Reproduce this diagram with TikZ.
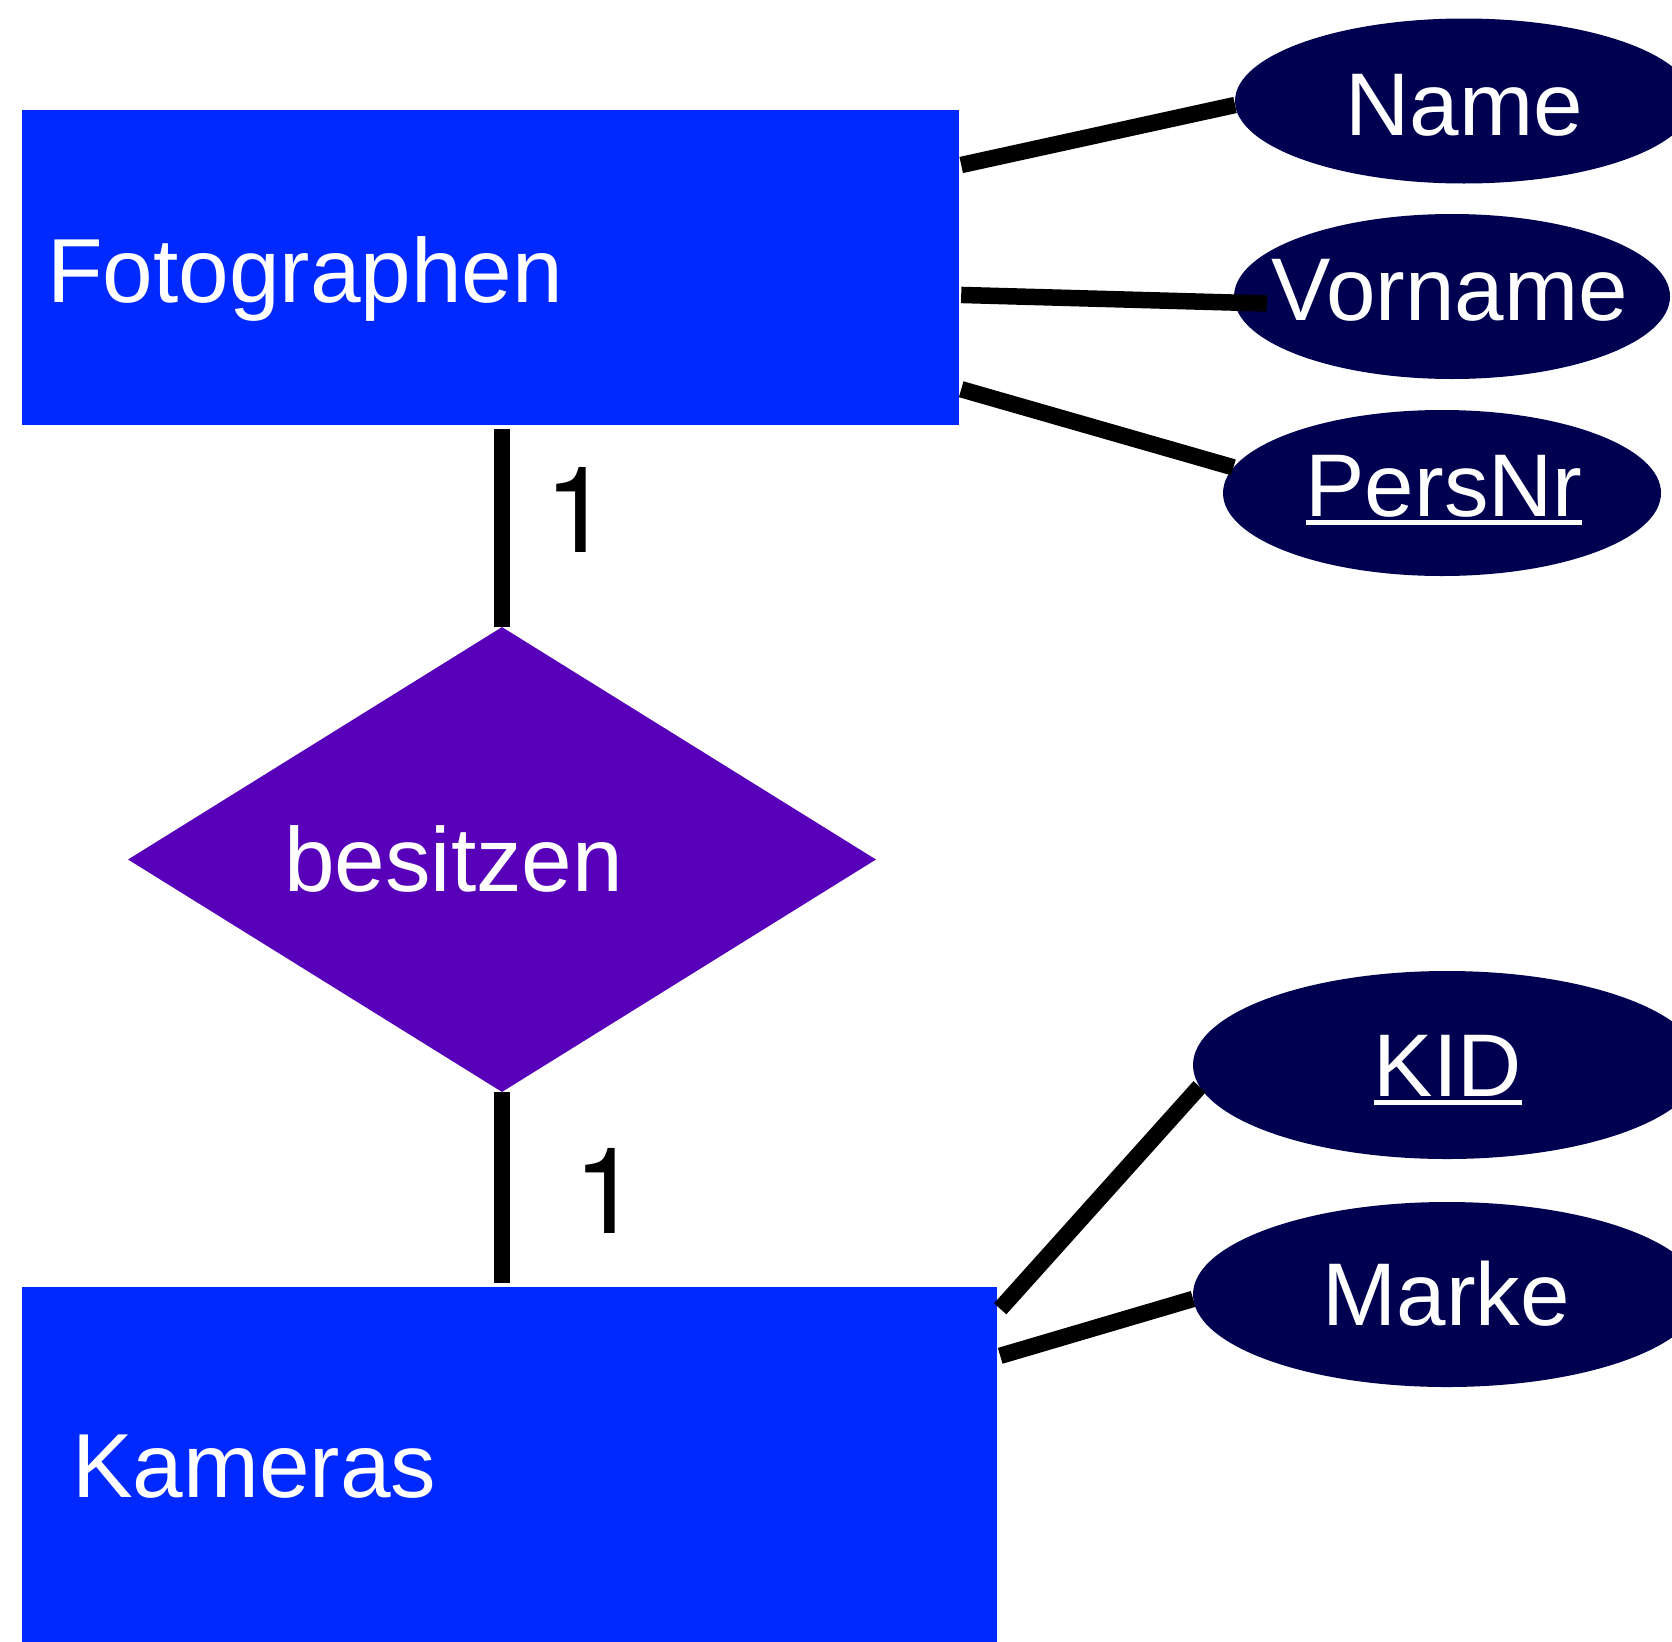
\documentclass[tikz,border=0pt]{standalone}
\usepackage{fontspec}
\setmainfont{Liberation Sans}
\newfontfamily\cardfont{TeX Gyre Heros}
\usetikzlibrary{shapes.geometric,calc}
\definecolor{entblue}{RGB}{0,41,255}
\definecolor{relpurple}{RGB}{88,0,185}
\definecolor{attnavy}{RGB}{0,0,80}
\newcommand\keyul[1]{\setbox0\hbox{#1}\rlap{\rule[-0.1em]{\wd0}{0.056em}}\box0}
\begin{document}
\begin{tikzpicture}[x=1pt,y=-1pt,
  entity/.style={rectangle, fill=entblue, draw=none, inner sep=0pt},
  relation/.style={diamond, fill=relpurple, draw=none, inner sep=0pt},
  attrib/.style={ellipse, fill=attnavy, draw=none, inner sep=0pt},
  lbl/.style={inner sep=0pt, text=white, font=\fontsize{89}{100}\selectfont},
  biglbl/.style={inner sep=0pt, text=white, font=\fontsize{91}{100}\selectfont},
  card/.style={inner sep=0pt, text=black, font=\cardfont\fontsize{120}{130}\selectfont},
  conn/.style={draw=black, line width=16.5pt}]
\clip (0,0) rectangle (1672,1641);
\fill[white] (0,0) rectangle (1672,1641);
% entities
\node[entity, minimum width=937pt, minimum height=315pt] (foto) at (490.5,267.5) {};
\node[entity, minimum width=975pt, minimum height=413pt] (kam) at (509.5,1493.5) {};
% relationship
\node[relation, minimum width=748pt, minimum height=465pt] (dia) at (502,859.5) {};
% attributes
\node[attrib, minimum width=458pt, minimum height=165pt] (name) at (1464,101) {};
\node[attrib, minimum width=436pt, minimum height=165pt] (vor) at (1452,296.5) {};
\node[attrib, minimum width=438pt, minimum height=166pt] (pers) at (1442,493) {};
\node[attrib, minimum width=508pt, minimum height=188pt] (kid) at (1447,1065) {};
\node[attrib, minimum width=508pt, minimum height=185pt] (marke) at (1447,1294.5) {};
% connectors
\draw[conn] ($(foto.north east)!0.175!(foto.south east)+(2,0)$) -- (name.181.5);
\draw[conn] ($(foto.north east)!0.587!(foto.south east)+(2,0)$) -- ($(vor.west)+(33,7)$);
\draw[conn] ($(foto.north east)!0.886!(foto.south east)+(2,0)$) -- (pers.173.6);
\draw[conn] (dia.north) -- ($(dia.north |- foto.south)+(0,4)$);
\draw[conn] (dia.south) -- ($(dia.south |- kam.north)+(0,-4)$);
\draw[conn] ($(kam.north east)+(3,22)$) -- (kid.185.8);
\draw[conn] ($(kam.north east)+(3,69)$) -- (marke.181);
% texts
\node[biglbl, anchor=base west] (tfoto) at (47,302) {Fotographen};
\node[biglbl, anchor=base west] (tkam) at (72,1497) {Kameras};
\node[biglbl, anchor=base west] (tdia) at (284,891) {besitzen};
\node[lbl, anchor=base] (tname) at (1464,135) {Name};
\node[lbl, anchor=base] (tvor) at (1450,320) {Vorname};
\node[lbl, anchor=base] (tpers) at (1444,516) {\keyul{PersNr}};
\node[lbl, anchor=base] (tkid) at (1448,1096) {\keyul{KID}};
\node[lbl, anchor=base] (tmarke) at (1446,1325) {Marke};
\node[card, anchor=base west] (c1) at (544,552) {1};
\node[card, anchor=base west] (c2) at (573,1233) {1};
\end{tikzpicture}
\end{document}
